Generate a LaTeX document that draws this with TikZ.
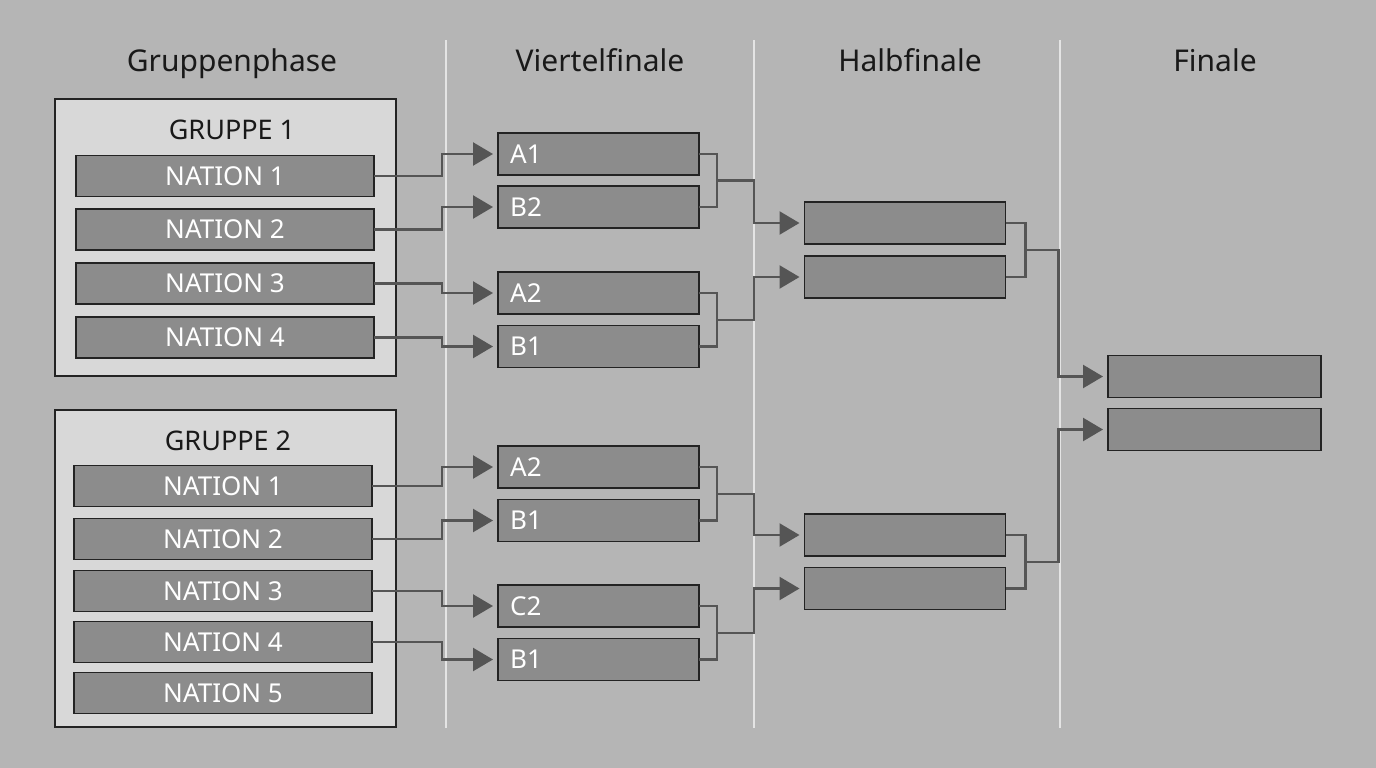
\documentclass[tikz,border=0pt]{standalone}
\usepackage{fontspec}
\setmainfont{Noto Sans}
\usetikzlibrary{arrows.meta,calc}
\definecolor{bg}{RGB}{181,181,181}
\definecolor{grpfill}{RGB}{216,216,216}
\definecolor{boxfill}{RGB}{140,140,140}
\definecolor{edge}{RGB}{35,35,35}
\definecolor{wire}{RGB}{85,85,85}
\definecolor{divider}{RGB}{228,228,228}
\definecolor{titletext}{RGB}{25,25,25}
\tikzset{
  grpbox/.style={draw=edge, fill=grpfill, line width=1.8pt, inner sep=0pt, outer sep=0pt, anchor=north west},
  nationbox/.style={draw=edge, fill=boxfill, line width=1.8pt, minimum width=298pt, minimum height=41pt, inner sep=0pt, outer sep=0pt, text=white, font=\fontsize{26}{30}\selectfont},
  matchbox/.style={draw=edge, fill=boxfill, line width=1.8pt, minimum width=201pt, minimum height=42pt, inner sep=0pt, outer sep=0pt},
  finalbox/.style={draw=edge, fill=boxfill, line width=1.8pt, minimum width=213pt, minimum height=42pt, inner sep=0pt, outer sep=0pt},
  qlabel/.style={text=white, font=\fontsize{26}{30}\selectfont, anchor=west, inner sep=0pt},
  header/.style={text=titletext, font=\fontsize{30}{36}\selectfont, anchor=base, inner sep=0pt},
  grptitle/.style={text=titletext, font=\fontsize{27}{32}\selectfont},
  conn/.style={draw=wire, line width=2.4pt},
  arr/.style={conn, -{Triangle[length=20pt,width=23pt]}, shorten >=5pt},
  divline/.style={draw=divider, line width=1.5pt}
}
\begin{document}
\begin{tikzpicture}[x=1pt,y=-1pt]
\fill[bg] (0,0) rectangle (1376,768);
\useasboundingbox (0,0) rectangle (1376,768);
% dividers
\draw[divline] (446,40) -- (446,728);
\draw[divline] (754,40) -- (754,728);
\draw[divline] (1060,40) -- (1060,728);
% headers
\node[header] (h1) at (232,71) {Gruppenphase};
\node[header] (h2) at (600,71) {Viertelfinale};
\node[header] (h3) at (910,71) {Halbfinale};
\node[header] (h4) at (1215,71) {Finale};
% group 1
\node[grpbox, minimum width=341pt, minimum height=277pt] (g1) at (55,99) {};
\node[grptitle] (g1t) at (232,130) {GRUPPE 1};
\node[nationbox] (a1) at (225,176) {NATION 1};
\node[nationbox] (a2) at (225,229.5) {NATION 2};
\node[nationbox] (a3) at (225,283.5) {NATION 3};
\node[nationbox] (a4) at (225,337.5) {NATION 4};
% group 2
\node[grpbox, minimum width=341pt, minimum height=317pt] (g2) at (55,410) {};
\node[grptitle] (g2t) at (228,441) {GRUPPE 2};
\node[nationbox] (b1) at (223,486) {NATION 1};
\node[nationbox] (b2) at (223,539) {NATION 2};
\node[nationbox] (b3) at (223,591) {NATION 3};
\node[nationbox] (b4) at (223,642) {NATION 4};
\node[nationbox] (b5) at (223,693) {NATION 5};
% quarterfinals
\node[matchbox] (q1) at (598.5,154) {};
\node[matchbox] (q2) at (598.5,207) {};
\node[matchbox] (q3) at (598.5,293) {};
\node[matchbox] (q4) at (598.5,346.5) {};
\node[matchbox] (q5) at (598.5,467) {};
\node[matchbox] (q6) at (598.5,520.5) {};
\node[matchbox] (q7) at (598.5,606) {};
\node[matchbox] (q8) at (598.5,659.5) {};
\node[qlabel] (l1) at ([xshift=12pt]q1.west) {A1};
\node[qlabel] (l2) at ([xshift=12pt]q2.west) {B2};
\node[qlabel] (l3) at ([xshift=12pt]q3.west) {A2};
\node[qlabel] (l4) at ([xshift=12pt]q4.west) {B1};
\node[qlabel] (l5) at ([xshift=12pt]q5.west) {A2};
\node[qlabel] (l6) at ([xshift=12pt]q6.west) {B1};
\node[qlabel] (l7) at ([xshift=12pt]q7.west) {C2};
\node[qlabel] (l8) at ([xshift=12pt]q8.west) {B1};
% semifinals
\node[matchbox] (s1) at (905,223) {};
\node[matchbox] (s2) at (905,277) {};
\node[matchbox] (s3) at (905,535) {};
\node[matchbox] (s4) at (905,588.5) {};
% final
\node[finalbox] (f1) at (1214.5,376.5) {};
\node[finalbox] (f2) at (1214.5,429.5) {};
% group -> quarterfinal connectors
\draw[arr] (a1.east) -- ++(68,0) |- (q1.west);
\draw[arr] (a2.east) -- ++(68,0) |- (q2.west);
\draw[arr] (a3.east) -- ++(68,0) |- (q3.west);
\draw[arr] (a4.east) -- ++(68,0) |- (q4.west);
\draw[arr] (b1.east) -- ++(70,0) |- (q5.west);
\draw[arr] (b2.east) -- ++(70,0) |- (q6.west);
\draw[arr] (b3.east) -- ++(70,0) |- (q7.west);
\draw[arr] (b4.east) -- ++(70,0) |- (q8.west);
% quarterfinal brackets
\draw[conn] (q1.east) -- ++(18,0) |- (q2.east);
\draw[conn] (q3.east) -- ++(18,0) |- (q4.east);
\draw[conn] (q5.east) -- ++(18,0) |- (q6.east);
\draw[conn] (q7.east) -- ++(18,0) |- (q8.east);
\coordinate (m1) at ($(q1.east)!0.5!(q2.east)+(18,0)$);
\coordinate (m2) at ($(q3.east)!0.5!(q4.east)+(18,0)$);
\coordinate (m3) at ($(q5.east)!0.5!(q6.east)+(18,0)$);
\coordinate (m4) at ($(q7.east)!0.5!(q8.east)+(18,0)$);
\draw[arr] (m1) -- ++(37,0) |- (s1.west);
\draw[arr] (m2) -- ++(37,0) |- (s2.west);
\draw[arr] (m3) -- ++(37,0) |- (s3.west);
\draw[arr] (m4) -- ++(37,0) |- (s4.west);
% semifinal brackets
\draw[conn] (s1.east) -- ++(20,0) |- (s2.east);
\draw[conn] (s3.east) -- ++(20,0) |- (s4.east);
\coordinate (n1) at ($(s1.east)!0.5!(s2.east)+(20,0)$);
\coordinate (n2) at ($(s3.east)!0.5!(s4.east)+(20,0)$);
\draw[arr] (n1) -- ++(33,0) |- (f1.west);
\draw[arr] (n2) -- ++(33,0) |- (f2.west);
\end{tikzpicture}
\end{document}
